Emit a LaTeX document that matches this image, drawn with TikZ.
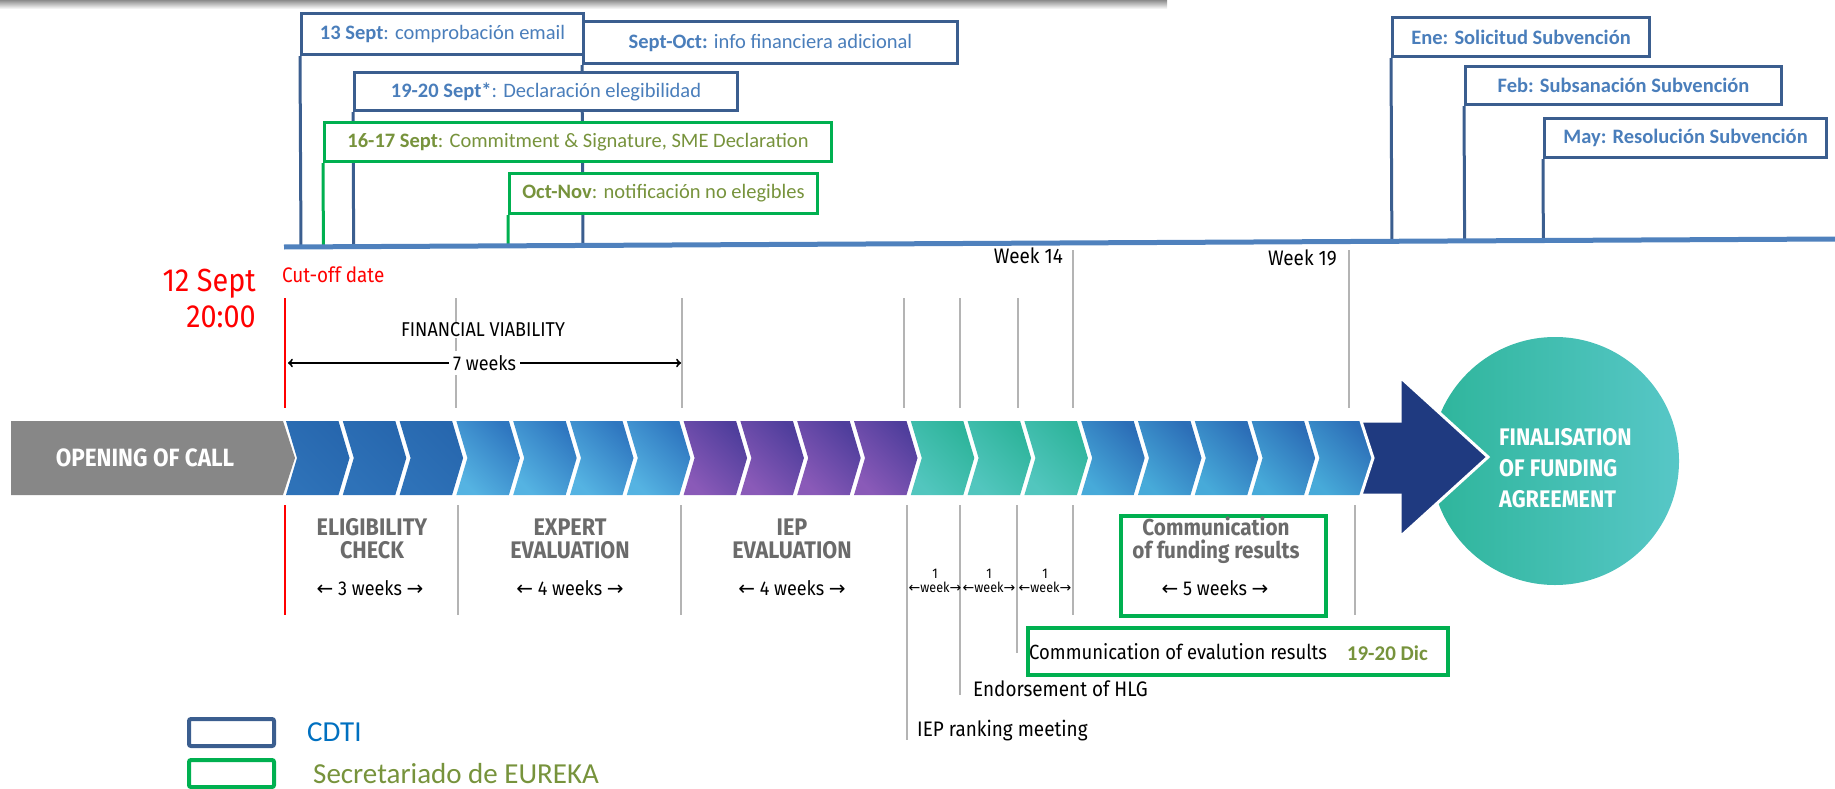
\documentclass[tikz,border=0pt]{standalone}
\usepackage{fontspec}
\setmainfont{Carlito}
\newfontfamily\condfont[FakeStretch=0.9]{Fira Sans}
\newfontfamily\arrowfont{DejaVu Sans}
\usetikzlibrary{positioning,calc,backgrounds}

\definecolor{cdtiline}{HTML}{3B5E8F}
\definecolor{cdtitext}{HTML}{4A7EBB}
\definecolor{tlblue}{HTML}{4F81BD}
\definecolor{eurline}{HTML}{00B050}
\definecolor{eurtext}{HTML}{77933C}
\definecolor{legblue}{HTML}{0070C0}
\definecolor{guidegray}{HTML}{B4B4B4}
\definecolor{labgray}{HTML}{6B6B6B}
\definecolor{cutred}{HTML}{FF0000}
\definecolor{opengray}{HTML}{878787}
\definecolor{dkL}{HTML}{2E72B8}
\definecolor{dkR}{HTML}{2767AE}
\definecolor{ltL}{HTML}{55B3E2}
\definecolor{ltR}{HTML}{2F77C0}
\definecolor{puL}{HTML}{8A5AB8}
\definecolor{puR}{HTML}{4F3E9C}
\definecolor{teL}{HTML}{52C6BE}
\definecolor{teR}{HTML}{2EB49B}
\definecolor{bmL}{HTML}{47AAD9}
\definecolor{bmR}{HTML}{2C6EB7}
\definecolor{navy}{HTML}{1F3A80}
\definecolor{ciL}{HTML}{2EB59B}
\definecolor{ciR}{HTML}{57C7C7}

\newcommand\la{{\arrowfont ←}}
\newcommand\ra{{\arrowfont →}}

\begin{document}
\begin{tikzpicture}[x=1pt, y=-1pt,
cdtibox/.style ={draw=cdtiline, line width=3pt, fill=white, text=cdtitext,
  anchor=north west, inner sep=0pt, font=\fontsize{20.5}{24}\selectfont},
eurbox/.style ={cdtibox, draw=eurline, text=eurtext},
cdtilink/.style ={draw=cdtiline, line width=3pt},
eurlink/.style ={draw=eurline, line width=3pt},
guide/.style ={draw=guidegray, line width=2pt},
cutoff/.style ={draw=cutred, line width=2pt},
phase/.style ={text=labgray, align=center, inner sep=0pt,
  font=\condfont\bfseries\fontsize{24}{23}\selectfont},
span/.style ={inner sep=1pt, font=\condfont\fontsize{20}{22}\selectfont},
greenframe/.style ={draw=eurline, line width=4pt, anchor=north west},
legbox/.style ={line width=4pt, rounded corners=2pt, minimum width=85,
  minimum height=27, anchor=north west},
legtext/.style ={inner sep=0pt, font=\fontsize{29}{32}\selectfont}
]
\useasboundingbox (0,0) rectangle (1835,789);

% shadow along the top edge
\shade[top color=black!45, bottom color=white] (0,0) rectangle (1167,9);

% CDTI / EUREKA milestones
\coordinate (tl0) at (284,247);
\coordinate (tl1) at (1835,239);
\node[cdtibox, minimum width=282, minimum height=41] (sep13) at (300,12)
  {\textbf{13 Sept}: comprobación email};
\node[cdtibox, minimum width=374, minimum height=42] (sepoct) at (582,20)
  {\textbf{Sept-Oct:} info financiera adicional};
\node[cdtibox, minimum width=383, minimum height=38] (sep19) at (353,71)
  {\textbf{19-20 Sept*}: Declaración elegibilidad};
\node[eurbox, minimum width=507, minimum height=39] (sep16) at (323,121)
  {\textbf{16-17 Sept}: Commitment \& Signature, SME Declaration};
\node[eurbox, minimum width=308, minimum height=40] (octnov) at (508,172)
  {\textbf{Oct-Nov}: notificación no elegibles};
\node[cdtibox, minimum width=257, minimum height=39] (ene) at (1391,16)
  {\textbf{Ene: Solicitud Subvención}};
\node[cdtibox, minimum width=316, minimum height=38] (feb) at (1464,65)
  {\textbf{Feb: Subsanación Subvención}};
\node[cdtibox, minimum width=282, minimum height=39] (may) at (1543,117)
  {\textbf{May: Resolución Subvención}};
\begin{scope}[on background layer]
\foreach \b in {sep13,sepoct,sep19,ene,feb,may}
  \draw[cdtilink] (\b.south west) -- ($(tl0)!(\b.south west)!(tl1)$);
\foreach \b in {sep16,octnov}
  \draw[eurlink] (\b.south west) -- ($(tl0)!(\b.south west)!(tl1)$);
\end{scope}
\draw[draw=tlblue, line width=5pt] (tl0) -- (tl1);

% cut-off and week marks
\node[text=cutred, font=\condfont\fontsize{32}{36}\selectfont, align=right,
  anchor=east, inner sep=0pt] (cutdate) at (256,298) {12 Sept\\20:00};
\node[text=cutred, font=\condfont\fontsize{21}{24}\selectfont, anchor=west,
  inner sep=0pt] (cutlbl) at (282,275) {Cut-off date};
\draw[cutoff] (285,298) -- (285,408) (285,505) -- (285,615);
\foreach \x in {456,682,904,960,1018}
  \draw[guide] (\x,298) -- (\x,408);
\foreach \x in {1073,1349}
  \draw[guide] (\x,250) -- (\x,408);
\foreach \x/\y in {458/615,681/615,907/740,960/695,1017/653,1073/615,1355/615}
  \draw[guide] (\x,505) -- (\x,\y);
\node[span, anchor=east, font=\condfont\fontsize{21}{22}\selectfont]
  (wk14) at (1064,256) {Week 14};
\node[span, anchor=east, font=\condfont\fontsize{21}{22}\selectfont]
  (wk19) at (1338,258) {Week 19};

% financial viability
\node[span, fill=white] (finv) at (483,330) {FINANCIAL VIABILITY};
\coordinate (fv0) at (288,363);
\coordinate (fv1) at (681,363);
\draw[to-to, line width=2pt] (fv0) -- (fv1)
  node[midway, span, fill=white, inner sep=4pt] (fvw) {7 weeks};

% process band
\fill[opengray] (11,421) -- (283,421) -- (295,458) -- (283,495) -- (11,495) -- cycle;
\node[text=white, font=\condfont\bfseries\fontsize{25}{25}\selectfont]
  (opencall) at (145,458) {OPENING OF CALL};
\foreach \first/\last/\lc/\rc in {0/2/dkL/dkR,3/6/ltL/ltR,7/10/puL/puR,
    11/13/teL/teR,14/18/bmL/bmR}
  \foreach \i in {\first,...,\last} {
    \pgfmathsetmacro\xa{286+\i*56.8}
    \shade[left color=\lc, right color=\rc, shading angle=135]
      (\xa,421) -- ++(52.5,0) -- ++(11,37) -- ++(-11,37) -- ++(-52.5,0)
      -- ++(11,-37) -- cycle;
  }
\shade[left color=ciL, right color=ciR] (1555,461) circle (124);
\fill[navy, draw=white, line width=3pt] (1361,421) -- (1400,421) -- (1400,377)
  -- (1488,457) -- (1400,537) -- (1400,495) -- (1361,495) -- (1373,458) -- cycle;
\node[text=white, font=\condfont\bfseries\fontsize{24}{31}\selectfont,
  align=left, anchor=west, inner sep=0pt] (final) at (1499,468)
  {FINALISATION\\OF FUNDING\\AGREEMENT};

% phases below the band
\node[phase] (elig) at (372,539) {ELIGIBILITY\\CHECK};
\node[phase] (expert) at (570,539) {EXPERT\\EVALUATION};
\node[phase] (iep) at (792,539) {IEP\\EVALUATION};
\node[span] (w3) at (370,588) {\la\ 3 weeks \ra};
\node[span] (w4a) at (570,588) {\la\ 4 weeks \ra};
\node[span] (w4b) at (792,588) {\la\ 4 weeks \ra};
\foreach \x/\n in {935/a,989/b,1045/c}
  \node[align=center, inner sep=0pt, font=\condfont\fontsize{14}{15}\selectfont]
    (wk1\n) at (\x,581) {1\\[-1pt]\la week\ra};

\node[greenframe, minimum width=205, minimum height=100] (fundbox) at (1119,514) {};
\node[phase, font=\condfont\bfseries\fontsize{23}{23}\selectfont]
  (fundtxt) at (1216,540) {Communication\\of funding results};
\node[span] (w5) at (1215,588) {\la\ 5 weeks \ra};

\node[greenframe, minimum width=420, minimum height=47] (evalbox) at (1026,626) {};
\node[span, anchor=west, font=\condfont\fontsize{20.5}{24}\selectfont]
  (evaltxt) at ([xshift=2pt]evalbox.west) {Communication of evalution results};
\node[anchor=east, inner sep=0pt, text=eurtext, font=\bfseries\fontsize{21}{24}\selectfont]
  (evaldate) at ([xshift=-22pt,yshift=-2pt]evalbox.east) {19-20 Dic};
\node[span, anchor=west, font=\condfont\fontsize{21}{24}\selectfont]
  (hlg) at (972,689) {Endorsement of HLG};
\node[span, anchor=west, font=\condfont\fontsize{21}{24}\selectfont]
  (rank) at (916,731) {IEP ranking meeting};

% legend
\node[legbox, draw=cdtiline] (legcdti) at (187,717) {};
\node[legtext, text=legblue, right=31pt of legcdti] (legcdtitxt) {CDTI};
\node[legbox, draw=eurline] (legeur) at (187,758) {};
\node[legtext, text=eurtext, right=37pt of legeur] (legeurtxt) {Secretariado de EUREKA};
\end{tikzpicture}
\end{document}
